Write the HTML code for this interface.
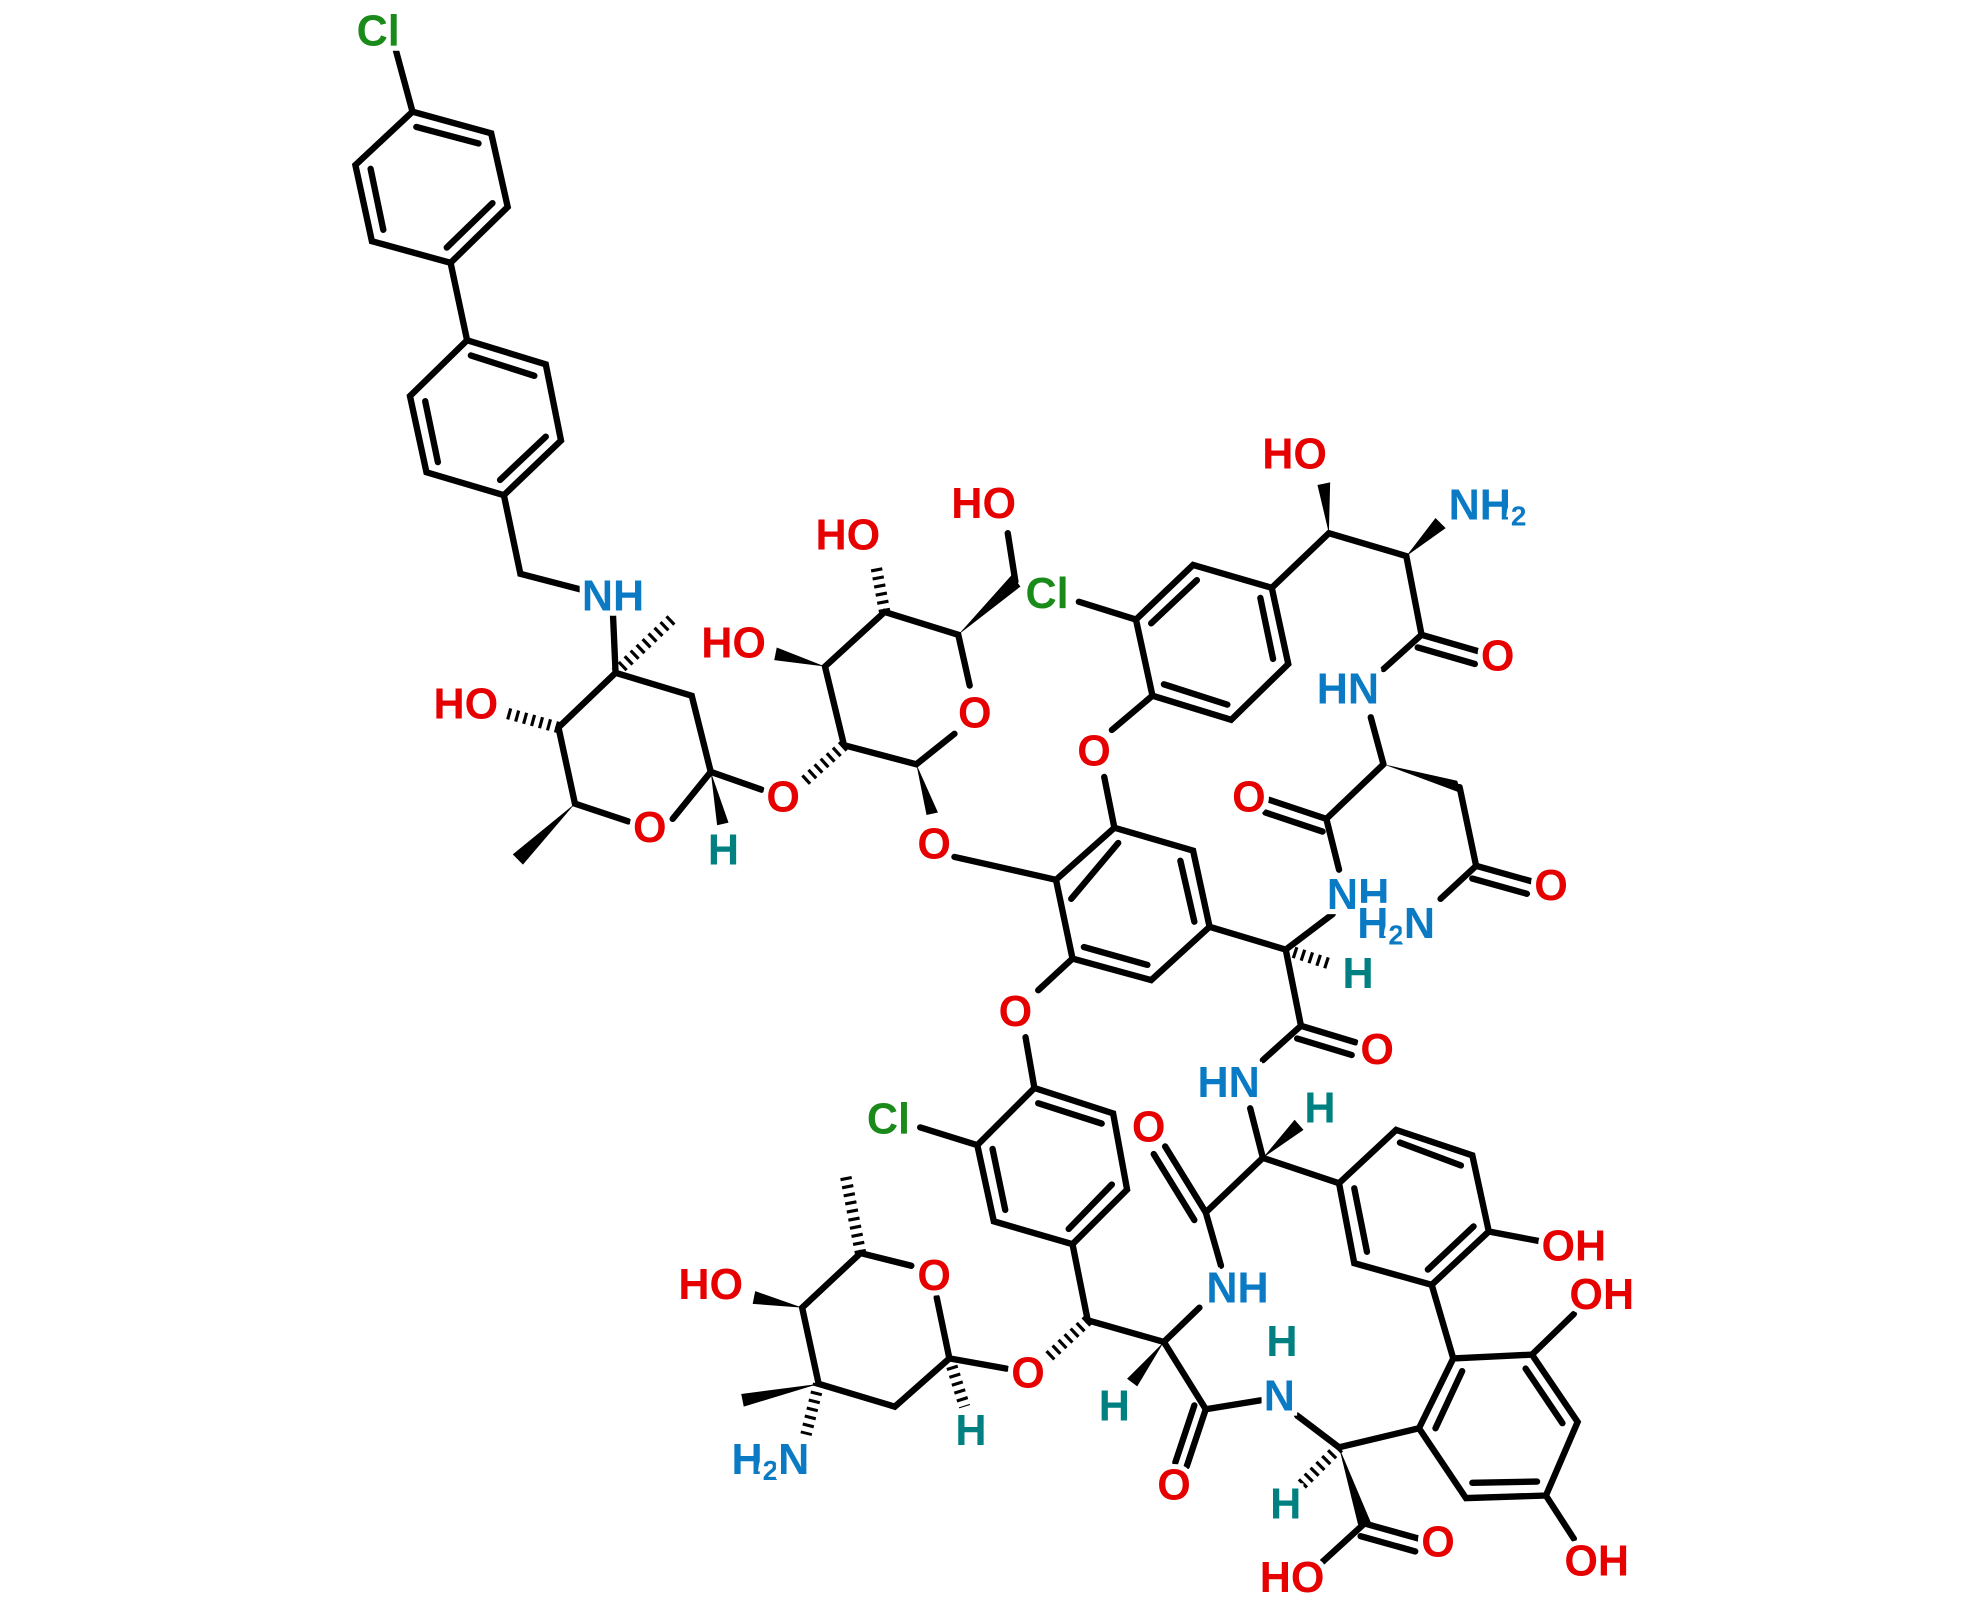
<!DOCTYPE html>
<html><head><meta charset="utf-8"><style>html,body{margin:0;padding:0;background:#fff}svg{display:block}</style></head><body>
<svg width="1980" height="1606" viewBox="0 0 1560 1265" preserveAspectRatio="none" xmlns="http://www.w3.org/2000/svg">
<g stroke="#000" stroke-width="5" stroke-linecap="round" fill="none">
<polyline points="325,88 387,105 400,163 355,207 293,190 280,130 325,88"/>
<line x1="328" y1="100" x2="377" y2="113"/><line x1="388" y1="160" x2="352" y2="195"/><line x1="302" y1="181" x2="292" y2="133"/>
<line x1="325" y1="88" x2="312" y2="40"/>
<line x1="355" y1="207" x2="368" y2="268"/>
<polyline points="368,268 430,287 442,347 397,390 336,372 323,312 368,268"/>
<line x1="371" y1="280" x2="421" y2="296"/><line x1="430" y1="344" x2="394" y2="378"/><line x1="345" y1="364" x2="335" y2="316"/>
<polyline points="397,390 410,452 460,465"/>
<line x1="483" y1="485" x2="485" y2="530"/>
<polyline points="440,573 485,530 545,548 560,608"/>
<polyline points="440,573 453,633 495,647"/>
<line x1="530" y1="645" x2="560" y2="608"/>
<line x1="560" y1="608" x2="600" y2="622"/>
<polyline points="665,587 650,525 697,482 755,500 764,540"/>
<polyline points="752,578 722,602 665,587"/>
<line x1="800" y1="458" x2="794" y2="420"/>
<line x1="752" y1="675" x2="832" y2="693"/>
<polyline points="832,693 878,652 940,670 953,730 907,772 845,755 832,693"/>
<line x1="844" y1="708" x2="881" y2="664"/><line x1="930" y1="678" x2="941" y2="726"/><line x1="904" y1="760" x2="854" y2="746"/>
<line x1="878" y1="652" x2="870" y2="612"/>
<line x1="876" y1="575" x2="908" y2="548"/>
<polyline points="908,548 970,567 1015,523 1002,463 940,445 895,488 908,548"/>
<line x1="917" y1="539" x2="967" y2="555"/><line x1="1003" y1="519" x2="993" y2="471"/><line x1="943" y1="457" x2="907" y2="491"/>
<line x1="895" y1="488" x2="850" y2="474"/>
<polyline points="1002,463 1047,420 1108,438 1120,500"/>
<line x1="1120" y1="500" x2="1165" y2="513"/><line x1="1117" y1="510" x2="1162" y2="523"/>
<line x1="1120" y1="500" x2="1090" y2="527"/>
<line x1="1080" y1="565" x2="1090" y2="602"/>
<line x1="1150" y1="620" x2="1163" y2="682"/>
<line x1="1163" y1="682" x2="1206" y2="694"/><line x1="1160" y1="692" x2="1203" y2="704"/>
<line x1="1163" y1="682" x2="1135" y2="708"/>
<polyline points="1090,602 1045,645 1055,685"/>
<line x1="1045" y1="645" x2="1000" y2="630"/><line x1="1042" y1="655" x2="997" y2="640"/>
<line x1="1050" y1="720" x2="1013" y2="748"/>
<line x1="953" y1="730" x2="1013" y2="748"/>
<line x1="1013" y1="748" x2="1025" y2="808"/>
<line x1="1025" y1="808" x2="1068" y2="821"/><line x1="1022" y1="818" x2="1065" y2="831"/>
<line x1="1025" y1="808" x2="995" y2="835"/>
<line x1="985" y1="873" x2="995" y2="912"/>
<line x1="995" y1="912" x2="1055" y2="932"/>
<line x1="995" y1="912" x2="950" y2="955"/>
<line x1="950" y1="955" x2="918" y2="903"/><line x1="941" y1="961" x2="909" y2="909"/>
<line x1="950" y1="955" x2="962" y2="997"/>
<line x1="945" y1="1030" x2="917" y2="1057"/>
<line x1="917" y1="1057" x2="857" y2="1040"/>
<line x1="917" y1="1057" x2="950" y2="1110"/>
<line x1="950" y1="1110" x2="993" y2="1103"/>
<line x1="950" y1="1110" x2="935" y2="1155"/><line x1="941" y1="1107" x2="926" y2="1152"/>
<line x1="1022" y1="1115" x2="1055" y2="1140"/>
<line x1="1075" y1="1200" x2="1118" y2="1212"/><line x1="1072" y1="1210" x2="1115" y2="1222"/>
<line x1="1075" y1="1200" x2="1040" y2="1232"/>
<line x1="1055" y1="1140" x2="1118" y2="1125"/>
<polyline points="1055,932 1100,890 1160,910 1173,970 1128,1012 1067,995 1055,932"/>
<line x1="1103" y1="900" x2="1151" y2="918"/><line x1="1161" y1="966" x2="1125" y2="1000"/><line x1="1077" y1="986" x2="1067" y2="936"/>
<line x1="1173" y1="970" x2="1215" y2="978"/>
<line x1="1128" y1="1012" x2="1145" y2="1070"/>
<polyline points="1145,1070 1207,1067 1243,1120 1218,1178 1155,1180 1118,1125 1145,1070"/>
<line x1="1202" y1="1078" x2="1231" y2="1121"/><line x1="1211" y1="1167" x2="1160" y2="1168"/><line x1="1131" y1="1125" x2="1152" y2="1080"/>
<line x1="1207" y1="1067" x2="1240" y2="1035"/>
<line x1="1218" y1="1178" x2="1240" y2="1212"/>
<line x1="845" y1="755" x2="818" y2="780"/>
<line x1="808" y1="817" x2="815" y2="857"/>
<polyline points="815,857 877,877 888,937 845,980 783,962 770,902 815,857"/>
<line x1="818" y1="869" x2="868" y2="885"/><line x1="876" y1="933" x2="842" y2="968"/><line x1="792" y1="953" x2="782" y2="905"/>
<line x1="770" y1="902" x2="725" y2="888"/>
<line x1="845" y1="980" x2="857" y2="1040"/>
<line x1="793" y1="1078" x2="748" y2="1070"/>
<polyline points="748,1070 738,1022"/>
<polyline points="718,997 678,987 632,1030 645,1090 705,1108 748,1070"/>
</g>
<g fill="#000">
<polygon points="453,633 404,673 412,681"/>
<polygon points="560,608 565,650 574,648"/>
<polygon points="650,525 612,510 610,520"/>
<polygon points="755,500 797,453 804,462"/>
<polygon points="722,602 730,642 739,640"/>
<polygon points="1047,420 1038,382 1048,380"/>
<polygon points="1108,438 1131,408 1139,416"/>
<polygon points="1090,602 1148,615 1152,625"/>
<polygon points="995,912 1020,882 1027,890"/>
<polygon points="917,1057 888,1086 896,1092"/>
<polygon points="1055,1140 1070,1201 1080,1199"/>
<polygon points="632,1030 595,1017 593,1027"/>
<polygon points="645,1090 584,1098 586,1108"/>
</g>
<g stroke="#000" stroke-width="9" stroke-dasharray="2.5 4" fill="none">
<line x1="485" y1="530" x2="530" y2="487"/>
<line x1="440" y1="573" x2="400" y2="562"/>
<line x1="665" y1="587" x2="632" y2="617"/>
<line x1="697" y1="482" x2="690" y2="445"/>
<line x1="1013" y1="748" x2="1050" y2="760"/>
<line x1="857" y1="1040" x2="825" y2="1070"/>
<line x1="748" y1="1070" x2="760" y2="1108"/>
<line x1="678" y1="987" x2="666" y2="925"/>
<line x1="645" y1="1090" x2="635" y2="1130"/>
<line x1="1055" y1="1140" x2="1025" y2="1170"/>
</g>
<g font-family="Liberation Sans, sans-serif" font-weight="bold" font-size="34" text-anchor="middle" stroke="#fff" stroke-width="8" paint-order="stroke" dominant-baseline="central">
<text x="298" y="25" fill="#1a8a1a">Cl</text>
<text x="483" y="470" fill="#0a7ac4">NH</text>
<text x="367" y="555" fill="#e60000">HO</text>
<text x="512" y="652" fill="#e60000">O</text>
<text x="570" y="670" fill="#008080">H</text>
<text x="617" y="628" fill="#e60000">O</text>
<text x="578" y="507" fill="#e60000">HO</text>
<text x="668" y="422" fill="#e60000">HO</text>
<text x="775" y="397" fill="#e60000">HO</text>
<text x="768" y="562" fill="#e60000">O</text>
<text x="736" y="665" fill="#e60000">O</text>
<text x="862" y="592" fill="#e60000">O</text>
<text x="825" y="468" fill="#1a8a1a">Cl</text>
<text x="1020" y="358" fill="#e60000">HO</text>
<text x="1172" y="398" fill="#0a7ac4">NH<tspan font-size="22" dy="8">2</tspan></text>
<text x="1180" y="517" fill="#e60000">O</text>
<text x="1062" y="543" fill="#0a7ac4">HN</text>
<text x="984" y="628" fill="#e60000">O</text>
<text x="1222" y="698" fill="#e60000">O</text>
<text x="1070" y="705" fill="#0a7ac4">NH</text>
<text x="1100" y="728" fill="#0a7ac4">H<tspan font-size="22" dy="8">2</tspan><tspan dy="-8">N</tspan></text>
<text x="1070" y="767" fill="#008080">H</text>
<text x="1085" y="827" fill="#e60000">O</text>
<text x="800" y="797" fill="#e60000">O</text>
<text x="968" y="853" fill="#0a7ac4">HN</text>
<text x="1040" y="873" fill="#008080">H</text>
<text x="905" y="888" fill="#e60000">O</text>
<text x="700" y="882" fill="#1a8a1a">Cl</text>
<text x="975" y="1015" fill="#0a7ac4">NH</text>
<text x="1240" y="982" fill="#e60000">OH</text>
<text x="1262" y="1020" fill="#e60000">OH</text>
<text x="1010" y="1057" fill="#008080">H</text>
<text x="1008" y="1100" fill="#0a7ac4">N</text>
<text x="878" y="1108" fill="#008080">H</text>
<text x="925" y="1170" fill="#e60000">O</text>
<text x="1013" y="1185" fill="#008080">H</text>
<text x="1133" y="1215" fill="#e60000">O</text>
<text x="1018" y="1243" fill="#e60000">HO</text>
<text x="1258" y="1230" fill="#e60000">OH</text>
<text x="810" y="1082" fill="#e60000">O</text>
<text x="765" y="1127" fill="#008080">H</text>
<text x="736" y="1005" fill="#e60000">O</text>
<text x="560" y="1012" fill="#e60000">HO</text>
<text x="607" y="1150" fill="#0a7ac4">H<tspan font-size="22" dy="8">2</tspan><tspan dy="-8">N</tspan></text>
</g>
</svg>
</body></html>
